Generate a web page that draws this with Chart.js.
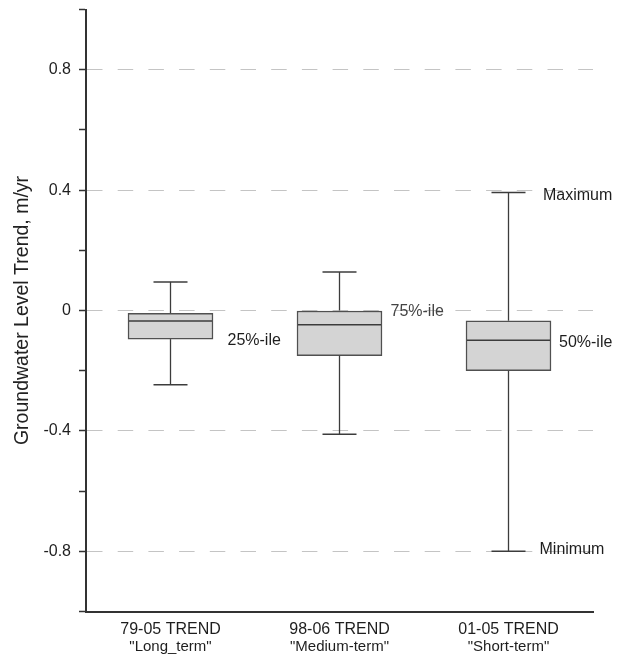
<!DOCTYPE html>
<html>
<head>
<meta charset="utf-8">
<script src="https://cdn.jsdelivr.net/npm/chart.js@4.4.1/dist/chart.umd.min.js"></script>
<style>
  html, body { margin: 0; padding: 0; background: #ffffff; }
  #wrap { width: 623px; height: 654px; }
</style>
</head>
<body>
<div id="wrap"><canvas id="c" width="623" height="654"></canvas></div>
<script>
// ---- data ----
const categories = ['79-05 TREND', '98-06 TREND', '01-05 TREND'];
const subLabels = ['"Long_term"', '"Medium-term"', '"Short-term"'];
const minimum = [-0.247, -0.411, -0.800];
const q1 = [-0.095, -0.150, -0.200];
const median = [-0.035, -0.047, -0.099];
const q3 = [-0.009, 0.000, -0.034];
const maximum = [0.095, 0.128, 0.392];
const yTickLabels = ['0.8', '0.4', '0', '-0.4', '-0.8'];
const annotationTexts = ['25%-ile', '75%-ile', '50%-ile', 'Maximum', 'Minimum'];
const annotationCategory = [0, 1, 2, 2, 2];
const annotationStat = ['q1', 'q3', 'median', 'maximum', 'minimum'];

// ---- styles ----
const FONT = "'Liberation Sans', Arial, Helvetica, sans-serif";
const annotationStyle = {
  dx: [57, 51, 50.5, 34.5, 31],
  dy: [1.5, 1, 2, 3.5, -1.5],
  colors: ['#1e1e1e', '#444444', '#1e1e1e', '#1e1e1e', '#1e1e1e']
};
const stats = { q1, q3, median, maximum, minimum };

function fmtTick(v) {
  const r = Math.round(v * 10) / 10;
  if (Math.abs(r) < 1e-9) return '0';
  return r.toFixed(1);
}

const boxPartsPlugin = {
  id: 'boxParts',
  afterDatasetsDraw(chart) {
    const { ctx } = chart;
    const x = chart.scales.x, y = chart.scales.y;
    const meta = chart.getDatasetMeta(0);
    ctx.save();
    ctx.strokeStyle = '#3c3c3c';
    ctx.lineCap = 'butt';
    const line = (x1, y1, x2, y2, w) => {
      ctx.lineWidth = w;
      ctx.beginPath();
      ctx.moveTo(x1, y1);
      ctx.lineTo(x2, y2);
      ctx.stroke();
    };
    categories.forEach((c, i) => {
      const bar = meta.data[i];
      const xc = x.getPixelForValue(i);
      const half = bar.width / 2;
      const capHalf = bar.width * 0.2;
      const pMax = y.getPixelForValue(maximum[i]);
      const pMin = y.getPixelForValue(minimum[i]);
      const pQ1 = y.getPixelForValue(q1[i]);
      const pQ3 = y.getPixelForValue(q3[i]);
      const pMed = y.getPixelForValue(median[i]);
      line(xc, pQ3, xc, pMax, 1.3);
      line(xc, pQ1, xc, pMin, 1.3);
      line(xc - capHalf, pMax, xc + capHalf, pMax, 1.5);
      line(xc - capHalf, pMin, xc + capHalf, pMin, 1.5);
      line(xc - half + 1, pMed, xc + half - 1, pMed, 1.5);
    });
    ctx.restore();
  },
  afterDraw(chart) {
    const { ctx } = chart;
    const x = chart.scales.x, y = chart.scales.y;
    ctx.save();
    ctx.font = '16px ' + FONT;
    ctx.textAlign = 'left';
    ctx.textBaseline = 'middle';
    annotationTexts.forEach((t, k) => {
      const i = annotationCategory[k];
      const v = stats[annotationStat[k]][i];
      ctx.fillStyle = annotationStyle.colors[k];
      ctx.fillText(t, x.getPixelForValue(i) + annotationStyle.dx[k], y.getPixelForValue(v) + annotationStyle.dy[k]);
    });
    ctx.restore();
  }
};

new Chart(document.getElementById('c'), {
  type: 'bar',
  data: {
    labels: categories,
    datasets: [{
      data: categories.map((c, i) => [q1[i], q3[i]]),
      backgroundColor: '#d4d4d4',
      borderColor: '#505050',
      borderWidth: 1.5,
      borderSkipped: false,
      barThickness: 85
    }]
  },
  options: {
    responsive: false,
    animation: false,
    devicePixelRatio: 1,
    layout: { padding: { top: 9.5, right: 30, bottom: 0, left: 0 } },
    plugins: { legend: { display: false }, tooltip: { enabled: false } },
    scales: {
      x: {
        type: 'category',
        position: 'bottom',
        weight: 1,
        offset: true,
        grid: { display: false, drawTicks: false, drawOnChartArea: false },
        border: { display: true, color: '#333333', width: 2 },
        ticks: { color: '#1e1e1e', font: { family: FONT, size: 16 }, padding: 8, maxRotation: 0, autoSkip: false },
        afterFit(s) { s.height = 26; s.paddingLeft = 0; s.paddingRight = 0; }
      },
      x2: {
        type: 'category',
        labels: subLabels,
        position: 'bottom',
        weight: 2,
        offset: true,
        grid: { display: false, drawTicks: false, drawOnChartArea: false },
        border: { display: false },
        ticks: { color: '#1e1e1e', font: { family: FONT, size: 15 }, padding: 0, maxRotation: 0, autoSkip: false },
        afterFit(s) { s.height = 16.5; s.paddingLeft = 0; s.paddingRight = 0; }
      },
      y: {
        type: 'linear',
        position: 'left',
        min: -1,
        max: 1,
        ticks: {
          stepSize: 0.2,
          color: '#1e1e1e',
          font: { family: FONT, size: 16 },
          padding: 8,
          callback: (v) => yTickLabels.includes(fmtTick(v)) ? fmtTick(v) : ''
        },
        grid: {
          color: (ctx) => (ctx.tick && yTickLabels.includes(fmtTick(ctx.tick.value))) ? '#c4c4c4' : 'rgba(0,0,0,0)',
          lineWidth: 1,
          tickColor: '#333333',
          tickLength: 7,
          tickWidth: 1.5
        },
        border: { display: true, color: '#333333', width: 2, dash: [15.5, 15.2], dashOffset: 0 },
        title: {
          display: true,
          text: 'Groundwater Level Trend, m/yr',
          color: '#222222',
          font: { family: FONT, size: 19.5 },
          padding: { top: 11, bottom: 0 }
        },
        afterFit(s) { s.width = 86; s.paddingTop = 0; s.paddingBottom = 0; }
      }
    }
  },
  plugins: [boxPartsPlugin]
});
</script>
</body>
</html>
